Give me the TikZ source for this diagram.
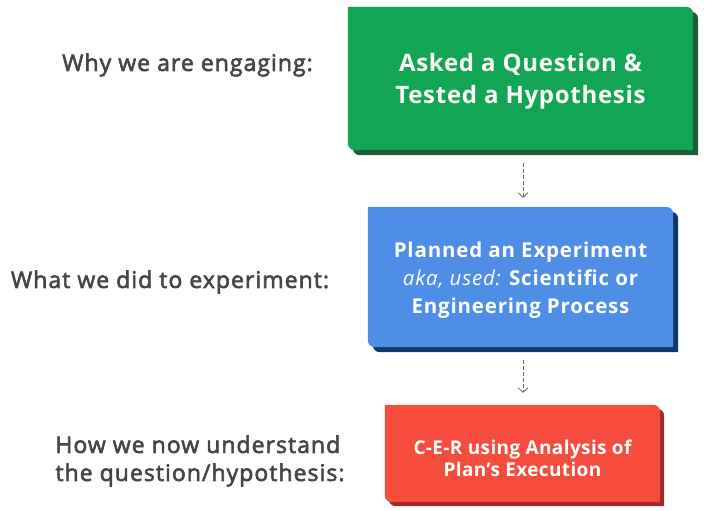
\documentclass[tikz,border=0pt]{standalone}
\usepackage{fontspec}
\setmainfont{Open Sans}
\newfontfamily\labfont[FakeBold=2.5,LetterSpace=4.5]{Open Sans}
\newfontfamily\gfont[LetterSpace=3]{Open Sans}
\newfontfamily\bfont[LetterSpace=4]{Open Sans}
\newfontfamily\rfont[LetterSpace=2]{Open Sans}
\usetikzlibrary{calc,backgrounds,arrows.meta}
\definecolor{gfill}{HTML}{12A553}
\definecolor{gshad}{HTML}{1B5E30}
\definecolor{bfill}{HTML}{4F8EE6}
\definecolor{bshad}{HTML}{0E3A63}
\definecolor{rfill}{HTML}{F64C3D}
\definecolor{rshad}{HTML}{A3282A}
\definecolor{labtxt}{HTML}{454545}
\definecolor{arrowc}{HTML}{6A6A6A}
\newcommand\boxpath[2]{($(#1.north west)+(#2)$) -- ($(#1.north east)+(#2)+(-7pt,0)$) arc[start angle=90,end angle=0,radius=7pt] -- ($(#1.south east)+(#2)$) -- ($(#1.south west)+(#2)+(7pt,0)$) arc[start angle=270,end angle=180,radius=7pt] -- cycle}
\tikzset{
  boxshape/.style={inner sep=0pt},
  boxtxt/.style={text=white, align=center, inner sep=0pt},
  labl/.style={text=labtxt, inner sep=0pt},
  conn/.style={draw=arrowc, line width=0.8pt, dash pattern=on 3.5pt off 2.5pt, -{Straight Barb[length=4.5pt,width=10pt]}}
}
\begin{document}
\begin{tikzpicture}[x=1pt,y=1pt]
\useasboundingbox (0,0) rectangle (709,511);
\node[boxshape, minimum width=345pt, minimum height=143pt] (g) at (520.5,432.5) {};
\node[boxshape, minimum width=305pt, minimum height=140pt] (b) at (520.5,234) {};
\node[boxshape, minimum width=275pt, minimum height=97pt] (r) at (522.5,57.5) {};
\fill[gshad] \boxpath{g}{5pt,-5pt};
\fill[gfill] \boxpath{g}{0,0};
\fill[bshad] \boxpath{b}{5pt,-5pt};
\fill[bfill] \boxpath{b}{0,0};
\fill[rshad] \boxpath{r}{4pt,-4pt};
\fill[rfill] \boxpath{r}{0,0};
\node[boxtxt, font=\gfont\fontsize{24}{32}\selectfont\bfseries] (gt) at ([yshift=-3pt]g.center) {Asked a Question \&\\Tested a Hypothesis};
\node[boxtxt, font=\bfont\fontsize{20.5}{28}\selectfont\bfseries] (bt) at ([yshift=-3pt]b.center) {Planned an Experiment\\{\mdseries\itshape aka, used:} Scientific or\\Engineering Process};
\node[boxtxt, font=\rfont\fontsize{19}{22}\selectfont\bfseries] (rt) at ([yshift=-5pt]r.center) {C-E-R using Analysis of\\Plan’s Execution};
\node[labl, font=\labfont\fontsize{23}{28}\selectfont] (l1) at (187.5,446) {Why we are engaging:};
\node[labl, font=\labfont\fontsize{23}{28}\selectfont] (l2) at (170,229) {What we did to experiment:};
\node[labl, align=left, font=\labfont\fontsize{23}{28}\selectfont] (l3) at (200,50) {How we now understand\\the question/hypothesis:};
\draw[conn, shorten <=13pt, shorten >=9pt] ([xshift=2.5pt]g.south) -- ([xshift=2.5pt]b.north);
\draw[conn, shorten <=13pt, shorten >=12pt] ([xshift=2.5pt]b.south) -- ([xshift=0.5pt]r.north);
\end{tikzpicture}
\end{document}
